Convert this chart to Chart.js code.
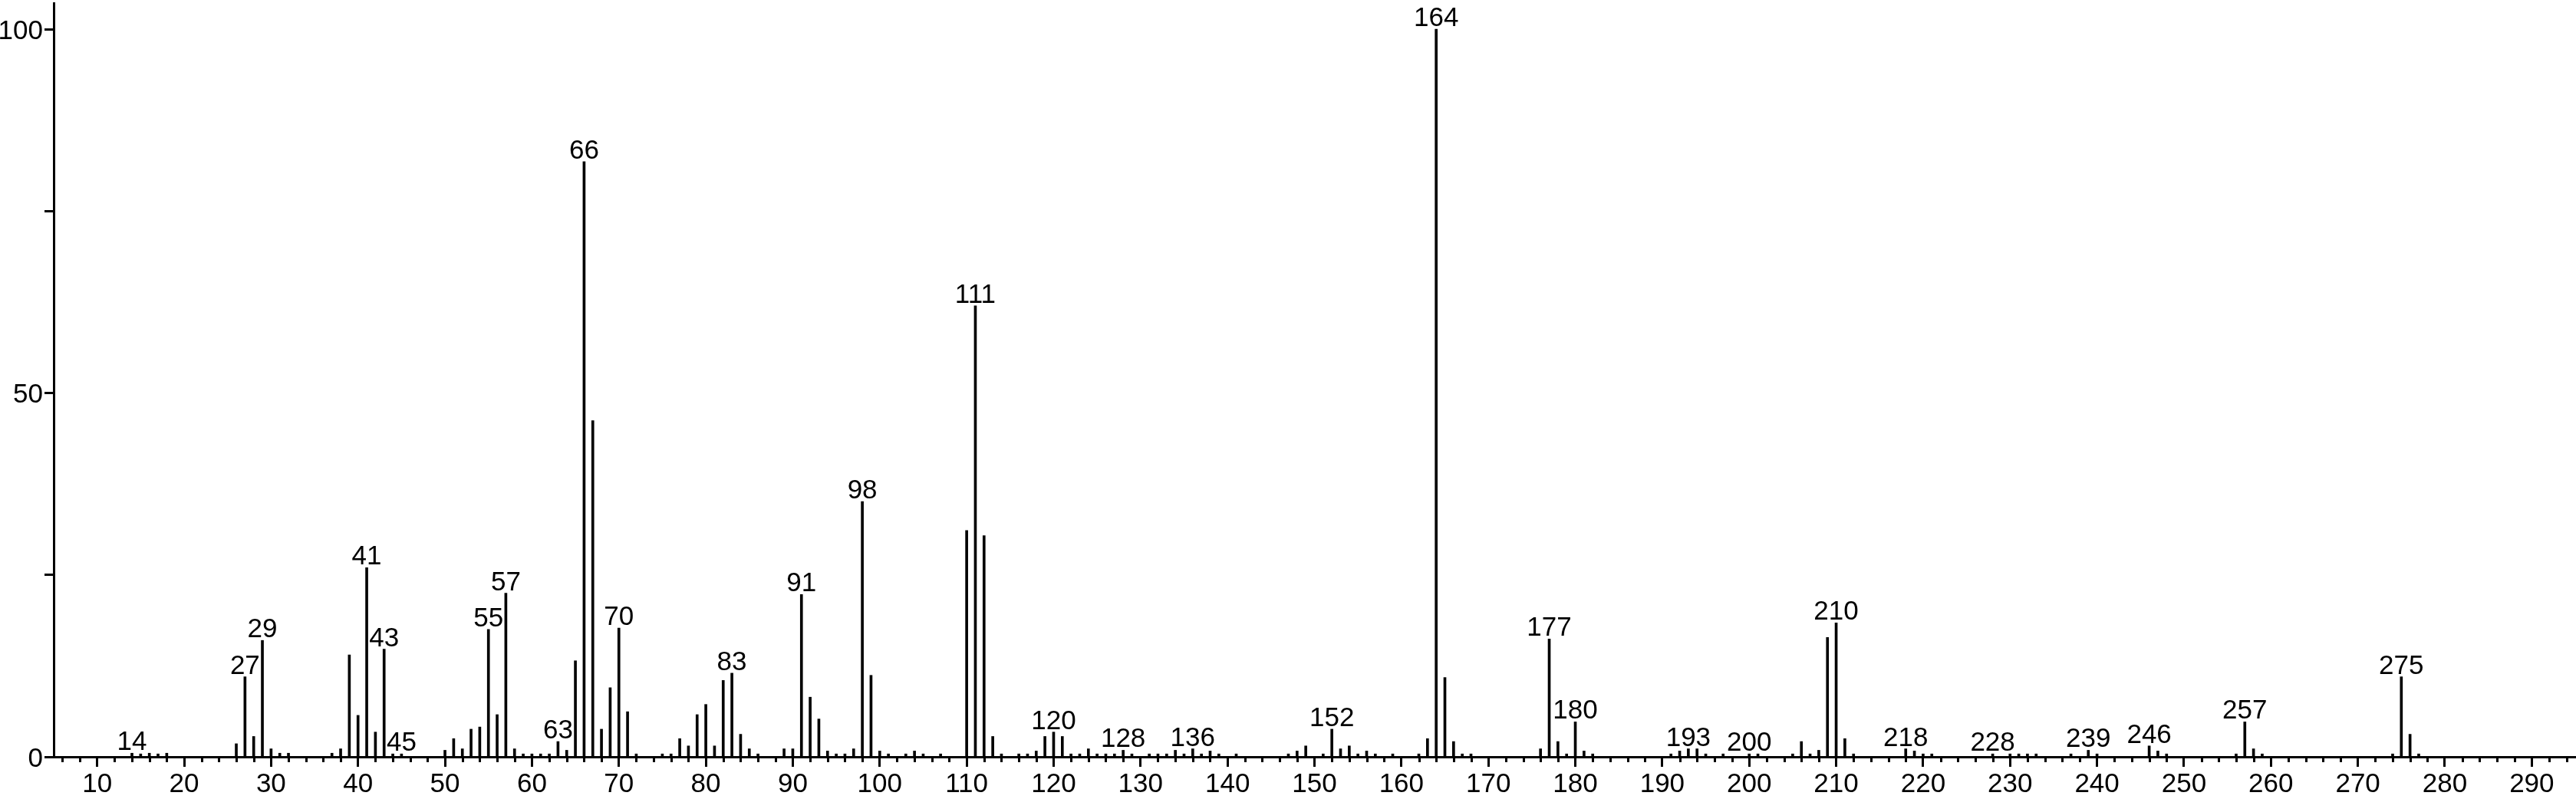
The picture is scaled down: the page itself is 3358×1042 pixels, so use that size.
<!DOCTYPE html>
<html>
<head>
<meta charset="utf-8">
<title>Mass spectrum</title>
<script src="https://cdn.jsdelivr.net/npm/chart.js@4.4.0/dist/chart.umd.min.js"></script>
<style>
  html, body { margin: 0; padding: 0; background: #fff; }
  #wrap { width: 3358px; height: 1042px; }
</style>
</head>
<body>
<div id="wrap"><canvas id="spectrum" width="3358" height="1042"></canvas></div>
<script>
// m/z of each peak and its relative intensity (base peak = 100)
const mzValues = [
  14, 15, 16, 17, 18,
  26, 27, 28, 29, 30, 31, 32,
  37, 38, 39, 40, 41, 42, 43, 44, 45,
  50, 51, 52, 53, 54, 55, 56, 57, 58, 59, 60, 61, 62, 63, 64, 65, 66, 67, 68, 69, 70, 71, 72,
  75, 76, 77, 78, 79, 80, 81, 82, 83, 84, 85, 86,
  89, 90, 91, 92, 93, 94, 95, 96, 97, 98, 99, 100, 101, 103, 104, 105, 107,
  110, 111, 112, 113, 114, 116, 117, 118, 119, 120, 121, 122, 123, 124, 125, 126, 127, 128, 129,
  131, 132, 133, 134, 135, 136, 137, 138, 139, 141,
  147, 148, 149, 151, 152, 153, 154, 155, 156, 157, 159, 162, 163, 164, 165, 166, 167, 168,
  176, 177, 178, 179, 180, 181, 182,
  191, 192, 193, 194, 195, 197, 200, 201,
  205, 206, 207, 208, 209, 210, 211, 212,
  218, 219, 220, 221, 228, 230, 231, 232, 233, 237, 239, 240,
  246, 247, 248, 256, 257, 258, 259, 274, 275, 276, 277
];
const intensities = [
  0.5, 0.4, 0.5, 0.4, 0.5,
  1.8, 11.0, 2.8, 16.0, 1.1, 0.5, 0.5,
  0.5, 1.1, 14.0, 5.7, 26.0, 3.4, 14.8, 0.4, 0.4,
  0.9, 2.5, 1.1, 3.8, 4.1, 17.5, 5.8, 22.5, 1.1, 0.4, 0.4, 0.4, 0.4, 2.1, 0.9, 13.2, 81.8, 46.2, 3.8, 9.5, 17.7, 6.2, 0.4,
  0.4, 0.4, 2.5, 1.5, 5.8, 7.2, 1.5, 10.5, 11.5, 3.1, 1.1, 0.4,
  1.1, 1.1, 22.3, 8.2, 5.2, 0.8, 0.4, 0.4, 1.1, 35.1, 11.2, 0.8, 0.4, 0.4, 0.8, 0.4, 0.4,
  31.1, 62.0, 30.4, 2.8, 0.4, 0.4, 0.4, 0.8, 2.8, 3.4, 2.8, 0.4, 0.4, 1.1, 0.4, 0.4, 0.4, 0.9, 0.4,
  0.4, 0.4, 0.4, 0.9, 0.4, 1.1, 0.4, 0.8, 0.4, 0.4,
  0.4, 0.8, 1.5, 0.4, 3.8, 1.1, 1.5, 0.4, 0.8, 0.4, 0.4, 0.4, 2.5, 100, 10.9, 2.1, 0.4, 0.4,
  1.1, 16.2, 2.1, 0.4, 4.8, 0.8, 0.4,
  0.4, 0.8, 1.1, 1.1, 0.4, 0.4, 0.4, 0.4,
  0.4, 2.1, 0.4, 0.9, 16.4, 18.4, 2.5, 0.4,
  1.1, 0.8, 0.4, 0.4, 0.4, 0.4, 0.4, 0.4, 0.4, 0.4, 0.9, 0.4,
  1.5, 0.8, 0.4, 0.4, 4.8, 1.1, 0.4, 0.4, 11.0, 3.1, 0.4
];
// peaks that carry their m/z as a label
const labelledPeaks = [
  14, 27, 29, 41, 43, 45, 55, 57, 63, 66, 70, 83, 91, 98, 111, 120, 128, 136,
  152, 164, 177, 180, 193, 200, 210, 218, 228, 239, 246, 257, 275
];
const xTickValues = [10, 20, 30, 40, 50, 60, 70, 80, 90, 100, 110, 120, 130, 140, 150,
  160, 170, 180, 190, 200, 210, 220, 230, 240, 250, 260, 270, 280, 290];
const yTickValues = [0, 25, 50, 75, 100];
const yTickLabels = ['0', '', '50', '', '100'];

const FONT = '"Liberation Sans Narrow", "Liberation Sans", Arial, sans-serif';

document.addEventListener('DOMContentLoaded', () => {
  drawSpectrum();
});

// small unlabelled ticks every 2 units under the x axis
const minorTicks = {
  id: 'minorTicks',
  afterDraw(chart) {
    const xs = chart.scales.x;
    const ctx = chart.ctx;
    const y0 = chart.chartArea.bottom;
    ctx.save();
    ctx.strokeStyle = '#000';
    ctx.lineWidth = 3;
    for (let v = xs.min + 1; v < xs.max; v += 2) {
      if (v % 10 === 0) continue;
      const px = Math.round(xs.getPixelForValue(v)) + 0.5;
      ctx.beginPath();
      ctx.moveTo(px, y0);
      ctx.lineTo(px, y0 + 7);
      ctx.stroke();
    }
    ctx.restore();
  }
};

// m/z numbers above the labelled peaks
const peakLabels = {
  id: 'peakLabels',
  afterDatasetsDraw(chart) {
    const meta = chart.getDatasetMeta(0);
    const ctx = chart.ctx;
    ctx.save();
    ctx.fillStyle = '#000';
    ctx.font = '35px ' + FONT;
    ctx.textAlign = 'center';
    ctx.textBaseline = 'alphabetic';
    labelledPeaks.forEach(mz => {
      const i = mzValues.indexOf(mz);
      if (i < 0) return;
      const bar = meta.data[i];
      ctx.fillText(String(mz), bar.x, bar.y - 4);
    });
    ctx.restore();
  }
};

function drawSpectrum() {
  const ctx = document.getElementById('spectrum').getContext('2d');
  const points = mzValues.map((m, i) => ({ x: m, y: intensities[i] }));

  new Chart(ctx, {
    type: 'bar',
    data: {
      datasets: [{
        data: points,
        backgroundColor: '#000',
        borderWidth: 0,
        barThickness: 3
      }]
    },
    options: {
      responsive: false,
      animation: false,
      layout: { padding: { top: 4, right: 1, left: 0, bottom: 0 } },
      plugins: { legend: { display: false }, tooltip: { enabled: false } },
      scales: {
        x: {
          type: 'linear',
          offset: false,
          min: 5,
          max: 295,
          afterBuildTicks: s => { s.ticks = xTickValues.map(v => ({ value: v })); },
          afterFit: s => { s.height = 55; s.paddingLeft = 0; s.paddingRight = 0; },
          grid: { offset: false, drawOnChartArea: false, drawTicks: true, tickLength: 13, tickWidth: 3, tickColor: '#000' },
          border: { display: true, color: '#000', width: 3 },
          ticks: {
            color: '#000',
            font: { family: FONT, size: 35 },
            padding: 2,
            maxRotation: 0,
            autoSkip: false
          }
        },
        y: {
          min: 0,
          max: 103.6,
          afterBuildTicks: s => { s.ticks = yTickValues.map(v => ({ value: v })); },
          afterFit: s => { s.width = 70; s.paddingTop = 0; s.paddingBottom = 0; },
          grid: { drawOnChartArea: false, drawTicks: true, tickLength: 12, tickWidth: 3, tickColor: '#000' },
          border: { display: true, color: '#000', width: 3 },
          ticks: {
            color: '#000',
            font: { family: FONT, size: 35 },
            padding: 2,
            labelOffset: 3,
            callback: v => {
              const i = yTickValues.indexOf(v);
              return i < 0 ? '' : yTickLabels[i];
            }
          }
        }
      }
    },
    plugins: [minorTicks, peakLabels]
  });
}
</script>
</body>
</html>
